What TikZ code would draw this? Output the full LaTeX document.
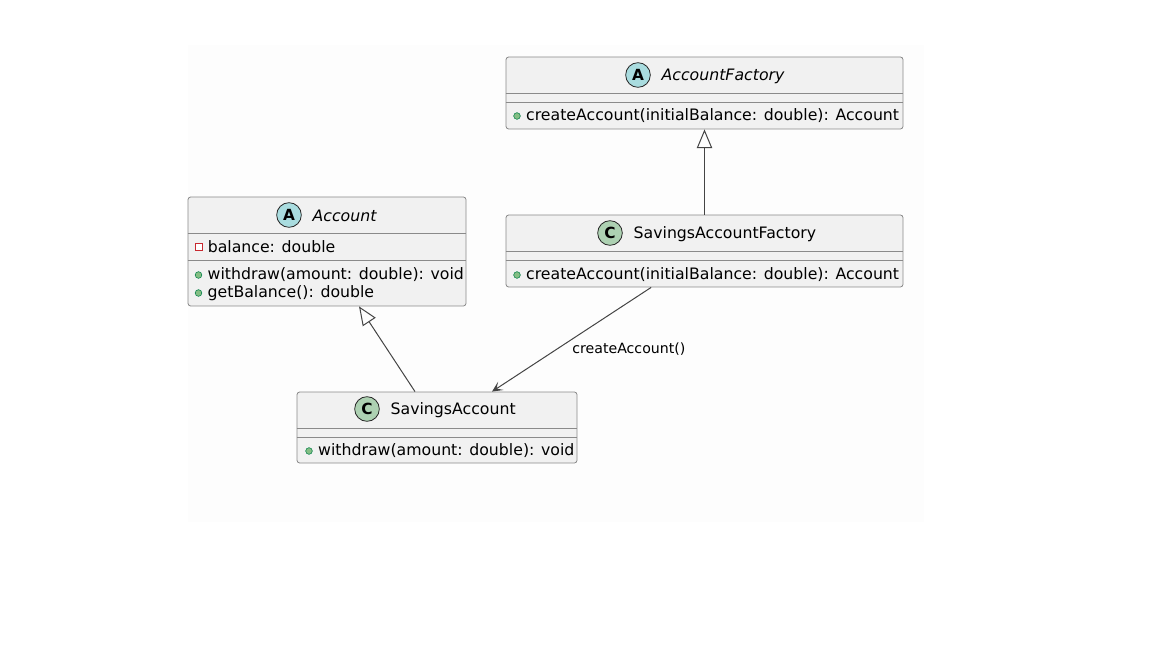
\documentclass[tikz,border=0pt]{standalone}
\usepackage{fontspec}
\setmainfont{DejaVu Sans}
\usetikzlibrary{positioning,fit,arrows.meta}
\definecolor{umlfill}{HTML}{F1F1F1}
\definecolor{umlborder}{HTML}{8A8A8A}
\definecolor{umlline}{HTML}{444444}
\definecolor{abstractcol}{HTML}{A9DCDF}
\definecolor{classcol}{HTML}{ADD1B2}
\definecolor{privcol}{HTML}{C82930}
\definecolor{pubfill}{HTML}{84BE84}
\definecolor{pubdraw}{HTML}{038048}
\definecolor{bgcol}{HTML}{FDFDFD}
\newcommand{\umlfont}{\fontsize{11.8}{14}\selectfont}
\tikzset{
    >=Stealth,
    classbox/.style = {draw=umlborder, fill=umlfill, line width=0.6pt, rounded corners=2pt, inner sep=0pt},
    sepline/.style = {draw=umlborder, line width=0.6pt},
    icon/.style = {draw=black!85, circle, minimum size=18.5pt, inner sep=0pt, line width=0.6pt,
                   font=\fontsize{11.5}{11.5}\selectfont\bfseries},
    title/.style = {inner sep=0pt, font=\umlfont},
    member/.style = {inner sep=0pt, font=\umlfont},
    public/.style = {circle, fill=pubfill, draw=pubdraw, line width=0.4pt, minimum size=5pt, inner sep=0pt},
    private/.style = {rectangle, draw=privcol, fill=white, line width=0.5pt, minimum size=5pt, inner sep=0pt},
    extends/.style = {draw=umlline, line width=0.75pt, -{Triangle[open, length=14pt, width=11.5pt]}},
    uses/.style = {draw=umlline, line width=0.75pt, -{Stealth[length=8pt, width=7.5pt, inset=4pt]}},
}

\begin{document}
\begin{tikzpicture}[x=0.75pt, y=-0.75pt, node distance=4pt]
    \useasboundingbox (0,0) rectangle (1152,648);
    \fill[white] (0,0) rectangle (1152,648);
    \fill[bgcol] (188,45) rectangle (924,522);

    % AccountFactory
    \node (af) [classbox, fit={(506,57) (903,129)}] {};
    \draw[sepline] (af.west |- 0,93) -- (af.east |- 0,93);
    \draw[sepline] (af.west |- 0,102) -- (af.east |- 0,102);
    \node (af-icon) [icon, fill=abstractcol] at (638,75) {A};
    \node (af-name) [title, right=8pt of af-icon, yshift=-0.8pt] {\itshape AccountFactory};
    \node (af-m1-vis) [public] at (517,116) {};
    \node (af-m1) [member, right=of af-m1-vis] {createAccount(initialBalance: double): Account};

    % Account
    \node (acc) [classbox, fit={(188,197) (466,306)}] {};
    \draw[sepline] (acc.west |- 0,233) -- (acc.east |- 0,233);
    \draw[sepline] (acc.west |- 0,260) -- (acc.east |- 0,260);
    \node (acc-icon) [icon, fill=abstractcol] at (289,215) {A};
    \node (acc-name) [title, right=8pt of acc-icon, yshift=-0.8pt] {\itshape Account};
    \node (acc-a1-vis) [private] at (198.5,247) {};
    \node (acc-a1) [member, right=of acc-a1-vis] {balance: double};
    \node (acc-m1-vis) [public] at (198.5,275) {};
    \node (acc-m1) [member, right=of acc-m1-vis] {withdraw(amount: double): void};
    \node (acc-m2-vis) [public] at (198.5,293) {};
    \node (acc-m2) [member, right=of acc-m2-vis] {getBalance(): double};

    % SavingsAccountFactory
    \node (saf) [classbox, fit={(506,215) (903,287)}] {};
    \draw[sepline] (saf.west |- 0,251) -- (saf.east |- 0,251);
    \draw[sepline] (saf.west |- 0,260) -- (saf.east |- 0,260);
    \node (saf-icon) [icon, fill=classcol] at (610,233) {C};
    \node (saf-name) [title, right=8pt of saf-icon, yshift=-0.8pt] {SavingsAccountFactory};
    \node (saf-m1-vis) [public] at (517,275) {};
    \node (saf-m1) [member, right=of saf-m1-vis] {createAccount(initialBalance: double): Account};

    % SavingsAccount
    \node (sa) [classbox, fit={(297,392) (577,463)}] {};
    \draw[sepline] (sa.west |- 0,428) -- (sa.east |- 0,428);
    \draw[sepline] (sa.west |- 0,437) -- (sa.east |- 0,437);
    \node (sa-icon) [icon, fill=classcol] at (367,409) {C};
    \node (sa-name) [title, right=8pt of sa-icon, yshift=-0.8pt] {SavingsAccount};
    \node (sa-m1-vis) [public] at (309,451) {};
    \node (sa-m1) [member, right=of sa-m1-vis] {withdraw(amount: double): void};

    % relations
    \draw[extends] (saf.north) -- (af.south);
    \draw[extends] ([xshift=-16.5pt]sa.north) -- ([xshift=24pt]acc.south);
    \draw[uses] ([xshift=-40pt]saf.south) -- ([xshift=41.25pt]sa.north)
        node[pos=0.59, anchor=west, xshift=11pt, yshift=-0.5pt, inner sep=0pt, font=\fontsize{10.6}{12}\selectfont] {createAccount()};
\end{tikzpicture}
\end{document}
